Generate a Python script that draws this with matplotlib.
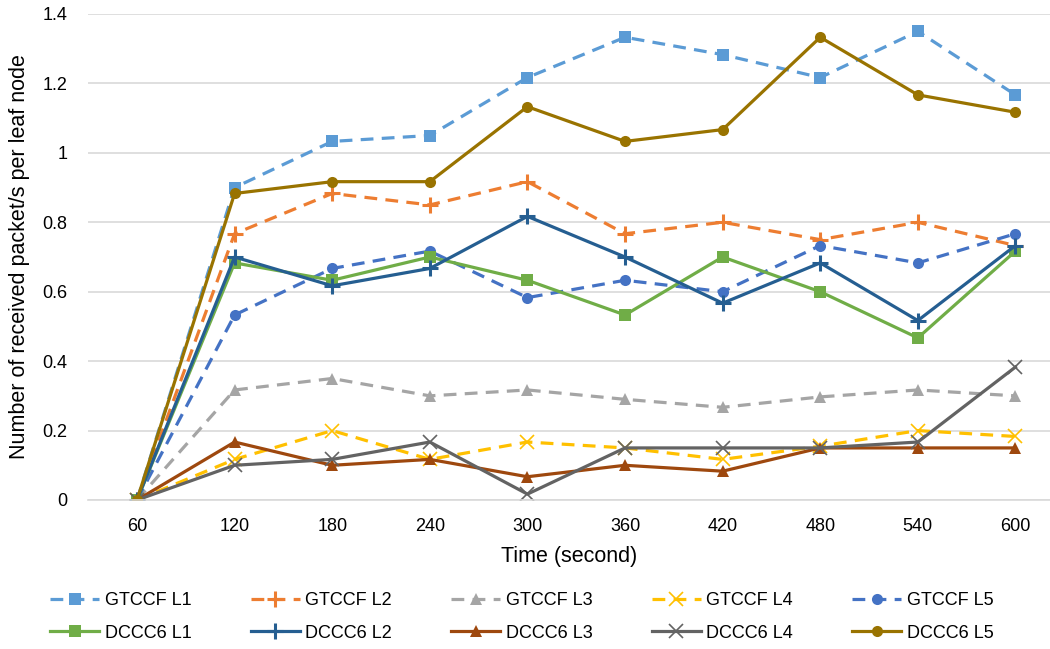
import numpy as np
import matplotlib.pyplot as plt
from matplotlib.ticker import FuncFormatter

plt.rcParams['font.family'] = ['Liberation Sans', 'DejaVu Sans']

# datos
tiempo = [60, 120, 180, 240, 300, 360, 420, 480, 540, 600]
gt_l1 = [0, 0.9, 1.033, 1.05, 1.217, 1.333, 1.283, 1.217, 1.35, 1.167]
gt_l2 = [0, 0.767, 0.883, 0.85, 0.917, 0.767, 0.8, 0.75, 0.8, 0.733]
gt_l3 = [0, 0.317, 0.35, 0.3, 0.317, 0.29, 0.267, 0.297, 0.317, 0.3]
gt_l4 = [0, 0.117, 0.2, 0.117, 0.167, 0.15, 0.117, 0.155, 0.2, 0.183]
gt_l5 = [0, 0.533, 0.667, 0.717, 0.583, 0.633, 0.6, 0.733, 0.683, 0.767]
dc_l1 = [0, 0.683, 0.633, 0.7, 0.633, 0.533, 0.7, 0.6, 0.467, 0.717]
dc_l2 = [0, 0.7, 0.617, 0.667, 0.817, 0.7, 0.567, 0.683, 0.517, 0.733]
dc_l3 = [0, 0.167, 0.1, 0.117, 0.067, 0.1, 0.083, 0.15, 0.15, 0.15]
dc_l4 = [0, 0.1, 0.117, 0.167, 0.017, 0.15, 0.15, 0.15, 0.167, 0.383]
dc_l5 = [0, 0.883, 0.917, 0.917, 1.133, 1.033, 1.067, 1.333, 1.167, 1.117]

series = [
    ("GTCCF L1", gt_l1, "#5B9BD5", "s", True),
    ("GTCCF L2", gt_l2, "#ED7D31", "+", True),
    ("GTCCF L3", gt_l3, "#A5A5A5", "^", True),
    ("GTCCF L4", gt_l4, "#FFC000", "x", True),
    ("GTCCF L5", gt_l5, "#4472C4", "o", True),
    ("DCCC6 L1", dc_l1, "#70AD47", "s", False),
    ("DCCC6 L2", dc_l2, "#255E91", "+", False),
    ("DCCC6 L3", dc_l3, "#9E480E", "^", False),
    ("DCCC6 L4", dc_l4, "#636363", "x", False),
    ("DCCC6 L5", dc_l5, "#997300", "o", False),
]

fig = plt.figure(figsize=(10.5, 6.49), dpi=100)
ax = fig.add_axes([88/1050, 149/649, (1050-88)/1050, 486/649])
x = np.arange(len(tiempo))

lineas = []
for nombre, vals, col, mk, disc in series:
    if mk in ("+", "x"):
        ms, mew = (11, 2.2) if mk == "+" else (10, 1.2)
    else:
        ms, mew = 8, 0
    ln, = ax.plot(x, vals, color=col, lw=2.3, marker=mk, markersize=ms,
                  markeredgewidth=mew, markeredgecolor=col, label=nombre)
    if disc:
        ln.set_dashes((4, 2.6))
    lineas.append(ln)

ax.set_xlim(-0.502, 9.354)
ax.set_ylim(0, 1.4)
ax.set_yticks(np.arange(0, 1.41, 0.2))
ax.yaxis.set_major_formatter(FuncFormatter(lambda v, p: "%g" % round(v, 1)))
ax.set_xticks(x)
ax.set_xticklabels([str(t) for t in tiempo])
ax.grid(axis="y", color="#D9D9D9", lw=1.2)
ax.set_axisbelow(True)
for s in ["top", "right", "left"]:
    ax.spines[s].set_visible(False)
ax.spines["bottom"].set_color("#D9D9D9")
ax.spines["bottom"].set_linewidth(1.2)
ax.tick_params(length=0, labelsize=13, colors="black")
ax.tick_params(axis="x", pad=13)
ax.tick_params(axis="y", pad=15)
ax.set_xlabel("Time (second)", fontsize=15.5, labelpad=8)
ax.set_ylabel("Number of received packet/s per leaf node", fontsize=15.5, labelpad=9)

# leyenda por filas
orden = [0, 5, 1, 6, 2, 7, 3, 8, 4, 9]
fig.legend([lineas[i] for i in orden], [series[i][0] for i in orden],
           loc="upper center", bbox_to_anchor=(0.497, 1 - 576/649), ncol=5,
           frameon=False, fontsize=13, handlelength=2.7, columnspacing=3.3,
           handletextpad=0.3, labelspacing=0.85)

fig.savefig("out.png", dpi=100)
